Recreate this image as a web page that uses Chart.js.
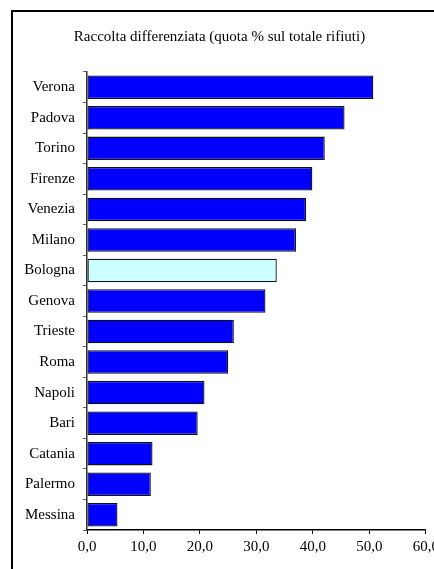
<!DOCTYPE html>
<html>
<head>
<meta charset="utf-8">
<script src="https://cdn.jsdelivr.net/npm/chart.js"></script>
<style>
  html, body { margin: 0; padding: 0; background: #fff; overflow: hidden; width: 434px; height: 569px; }
  .cornice {
    position: absolute; left: 11px; top: 10px;
    width: 425px; height: 570px;
    border-left: 2px solid #000; border-top: 2px solid #000;
  }
  .cornice canvas { display: block; }
</style>
</head>
<body>
<div class="cornice">
  <canvas id="raccoltaChart" width="430" height="557"></canvas>
</div>
<script>
// Dati
const citta = ['Verona', 'Padova', 'Torino', 'Firenze', 'Venezia', 'Milano', 'Bologna', 'Genova',
  'Trieste', 'Roma', 'Napoli', 'Bari', 'Catania', 'Palermo', 'Messina'];
const quota = [50.7, 45.6, 42.1, 39.9, 38.8, 37.0, 33.6, 31.6, 26.0, 25.0, 20.8, 19.6, 11.6, 11.3, 5.4];
const evidenziata = 'Bologna';
const tickValori = [0, 10, 20, 30, 40, 50, 60];

const colori = citta.map(c => c === evidenziata ? '#ccffff' : '#0000ff');
const fontSerif = 'Liberation Serif, Times New Roman, serif';

const ctx = document.getElementById('raccoltaChart').getContext('2d');
new Chart(ctx, {
  type: 'bar',
  data: {
    labels: citta,
    datasets: [{
      label: 'Raccolta differenziata',
      data: quota,
      backgroundColor: colori,
      borderColor: '#111',
      borderWidth: 1.3,
      borderSkipped: false,
      barPercentage: 0.77,
      categoryPercentage: 1
    }]
  },
  options: {
    indexAxis: 'y',
    responsive: false,
    animation: false,
    layout: { padding: { left: 0, right: 17, top: 0, bottom: 0 } },
    plugins: {
      legend: { display: false },
      tooltip: { enabled: false },
      title: {
        display: true,
        text: 'Raccolta differenziata (quota % sul totale rifiuti)',
        color: '#000',
        font: { family: fontSerif, size: 15, weight: 'normal' },
        padding: { top: 16, bottom: 26 }
      }
    },
    scales: {
      x: {
        min: 0,
        max: 60,
        afterBuildTicks: s => { s.ticks = tickValori.map(v => ({ value: v })); },
        afterFit: s => { s.height = 39; },
        border: { color: '#000', width: 1.5 },
        grid: { drawOnChartArea: false, tickLength: 4, color: '#000', lineWidth: 1 },
        ticks: {
          color: '#000',
          padding: 4,
          maxRotation: 0,
          font: { family: fontSerif, size: 15 },
          callback: v => v.toFixed(1).replace('.', ',')
        }
      },
      y: {
        afterFit: s => { s.width = 74; },
        border: { color: '#333', width: 1.5 },
        grid: { drawOnChartArea: false, tickLength: 4, color: '#666', lineWidth: 1 },
        ticks: {
          color: '#000',
          padding: 8,
          font: { family: fontSerif, size: 15 }
        }
      }
    }
  }
});
</script>
</body>
</html>
